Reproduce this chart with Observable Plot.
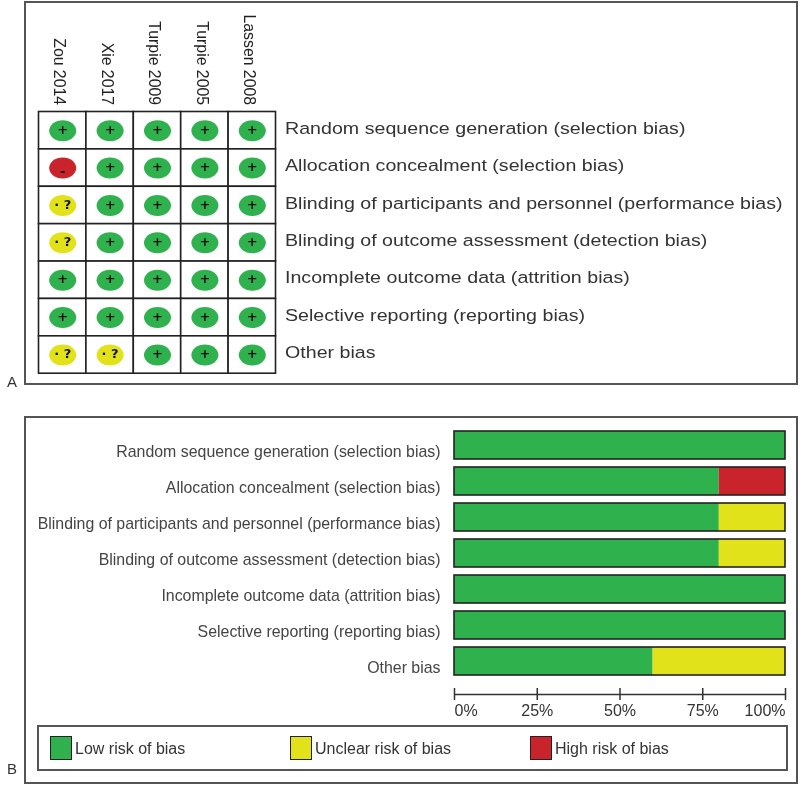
<!DOCTYPE html>
<html>
<head>
<meta charset="utf-8">
<script src="https://cdn.jsdelivr.net/npm/d3@7"></script>
<script src="https://cdn.jsdelivr.net/npm/@observablehq/plot@0.6"></script>
<style>
  html, body { margin: 0; padding: 0; background: #fff; }
  #page { position: relative; width: 800px; height: 786px; overflow: hidden; font-family: "Liberation Sans", sans-serif; filter: blur(0.4px); }
  #panelA, #panelB { position: absolute; left: 0; width: 800px; }
  #panelA { top: 0; }
  #panelB { top: 400px; }
  #panelA svg, #panelB svg { display: block; background: transparent; }
  .frame { position: absolute; border: 2px solid #555; box-sizing: border-box; }
  .tag { position: absolute; left: 7px; font-size: 15px; color: #333; }
  #legend { position: absolute; left: 37px; top: 725px; width: 751px; height: 46px; border: 2px solid #555; box-sizing: border-box; background: #fff; }
  .sw { position: absolute; top: 9px; width: 22px; height: 24px; border: 1.5px solid #222; box-sizing: border-box; }
  .lb { position: absolute; top: 13px; font: 16px "Liberation Sans Narrow", "Liberation Sans", sans-serif; color: #333; white-space: nowrap; }
</style>
</head>
<body>
<div id="page">
  <div class="frame" style="left:24px;top:1px;width:774px;height:384px"></div>
  <div class="frame" style="left:24px;top:416px;width:774px;height:368px"></div>
  <div class="tag" style="top:373px">A</div>
  <div class="tag" style="top:760px">B</div>
  <div id="panelA"></div>
  <div id="panelB"></div>
  <div id="legend"></div>
</div>
<script>
const studies = ["Zou 2014", "Xie 2017", "Turpie 2009", "Turpie 2005", "Lassen 2008"];
const domains = [
  "Random sequence generation (selection bias)",
  "Allocation concealment (selection bias)",
  "Blinding of participants and personnel (performance bias)",
  "Blinding of outcome assessment (detection bias)",
  "Incomplete outcome data (attrition bias)",
  "Selective reporting (reporting bias)",
  "Other bias"
];
const riskLevels = ["Low risk of bias", "Unclear risk of bias", "High risk of bias"];
const riskColors = ["#2fb14e", "#e2e21a", "#c9232b"];
const riskSigns = ["+", "· ?", "-"];

// one row per domain, one column per study: 0 low, 1 unclear, 2 high
const judgements = [
  [0, 0, 0, 0, 0],
  [2, 0, 0, 0, 0],
  [1, 0, 0, 0, 0],
  [1, 0, 0, 0, 0],
  [0, 0, 0, 0, 0],
  [0, 0, 0, 0, 0],
  [1, 1, 0, 0, 0]
];

// percentage of studies per domain
const lowShare =     [100, 80, 80, 80, 100, 100, 60];
const unclearShare = [0, 0, 20, 20, 0, 0, 40];
const highShare =    [0, 20, 0, 0, 0, 0, 0];
const axisTicks = [0, 25, 50, 75, 100];

const cells = domains.flatMap((domain, i) =>
  studies.map((study, j) => ({domain, study, risk: riskLevels[judgements[i][j]], sign: riskSigns[judgements[i][j]]})));
const shares = domains.flatMap((domain, i) => [
  {domain, risk: riskLevels[0], share: lowShare[i]},
  {domain, risk: riskLevels[1], share: unclearShare[i]},
  {domain, risk: riskLevels[2], share: highShare[i]}
]);

const colorScale = {domain: riskLevels, range: riskColors};
const wideFont = "'DejaVu Sans', sans-serif";
const narrowFont = "'Liberation Sans Narrow', 'Liberation Sans', sans-serif";

// A wide, flat ellipse symbol for the judgement markers
const ellipse = {
  draw(ctx, size) {
    const r = Math.sqrt(size / Math.PI), a = r * 1.29, b = r, k = 0.5523;
    ctx.moveTo(a, 0);
    ctx.bezierCurveTo(a, k * b, k * a, b, 0, b);
    ctx.bezierCurveTo(-k * a, b, -a, k * b, -a, 0);
    ctx.bezierCurveTo(-a, -k * b, -k * a, -b, 0, -b);
    ctx.bezierCurveTo(k * a, -b, a, -k * b, a, 0);
    ctx.closePath();
  }
};

const signFor = (risk) => cells.filter((d) => d.risk === risk);

const plotA = Plot.plot({
  width: 800,
  height: 400,
  marginLeft: 38.5,
  marginRight: 524.5,
  marginTop: 111.5,
  marginBottom: 26.8,
  style: {background: "transparent", overflow: "visible"},
  x: {domain: studies, padding: 0, round: false, axis: null},
  y: {domain: domains, padding: 0, round: false, axis: null},
  color: colorScale,
  marks: [
    Plot.cell(cells, {x: "study", y: "domain", fill: "white", stroke: "#222", strokeWidth: 1.6}),
    Plot.dot(cells, {x: "study", y: "domain", r: 10.5, symbol: ellipse, fill: "risk", stroke: "none"}),
    Plot.text(signFor(riskLevels[0]), {x: "study", y: "domain", text: "sign", dy: -1, fontFamily: wideFont, fontWeight: "bold", fontSize: 13, fill: "#111"}),
    Plot.text(signFor(riskLevels[1]), {x: "study", y: "domain", text: "sign", dy: -1, fontFamily: wideFont, fontWeight: "bold", fontSize: 13, fill: "#111"}),
    Plot.text(signFor(riskLevels[2]), {x: "study", y: "domain", text: "sign", dy: 4, fontFamily: wideFont, fontWeight: "bold", fontSize: 13, fill: "#111"}),
    Plot.text(studies, {x: d => d, frameAnchor: "top", text: d => d, rotate: 90, textAnchor: "end", dx: 3, dy: -7, fontFamily: narrowFont, fontSize: 15.8, fill: "#222"}),
    Plot.axisY({anchor: "right", tickSize: 0, tickPadding: 9, dy: -2, label: null, fontFamily: "'Liberation Sans', sans-serif", fontSize: 15.9, fill: "#333"})
  ]
});
// The right-hand labels of panel A are the same face as panel B, stretched sideways
d3.select(plotA).selectAll('[aria-label="y-axis tick label"] text').each(function () {
  this.setAttribute("transform", (this.getAttribute("transform") || "") + " scale(1.235,1)");
});
document.getElementById("panelA").append(plotA);

const plotB = Plot.plot({
  width: 800,
  height: 386,
  marginLeft: 454,
  marginRight: 15,
  marginTop: 27,
  marginBottom: 107,
  style: {background: "transparent", overflow: "visible"},
  x: {domain: [0, 100], axis: null},
  y: {domain: domains, paddingInner: 8 / 36, paddingOuter: 4 / 36, axis: null},
  color: colorScale,
  marks: [
    Plot.barX(shares, {x: "share", y: "domain", fill: "risk", order: riskLevels}),
    Plot.barX(domains, {x1: () => 0, x2: () => 100, y: d => d, fill: "none", stroke: "#222", strokeWidth: 1.6}),
    Plot.ruleY(["Other bias"], {y: d => d, x1: 0, x2: 100, dy: 33, stroke: "#333", strokeWidth: 1.5}),
    Plot.tickX(axisTicks, {x: d => d, y: () => "Other bias", dy: 33, insetTop: 8, insetBottom: 8, stroke: "#333", strokeWidth: 1.5}),
    Plot.text(axisTicks.slice(0, 1), {x: d => d, y: () => "Other bias", dy: 49, text: d => d + "%", textAnchor: "start", fontFamily: narrowFont, fontSize: 16, fill: "#333"}),
    Plot.text(axisTicks.slice(1, 4), {x: d => d, y: () => "Other bias", dy: 49, text: d => d + "%", fontFamily: narrowFont, fontSize: 16, fill: "#333"}),
    Plot.text(axisTicks.slice(4), {x: d => d, y: () => "Other bias", dy: 49, text: d => d + "%", textAnchor: "end", fontFamily: narrowFont, fontSize: 16, fill: "#333"}),
    Plot.axisY({anchor: "left", tickSize: 0, tickPadding: 14, dy: 6, label: null, fontFamily: narrowFont, fontSize: 15.9, fill: "#444"})
  ]
});
document.getElementById("panelB").append(plotB);

const legendLefts = [11, 251, 491];
const legend = document.getElementById("legend");
riskLevels.forEach((label, i) => {
  const sw = document.createElement("div");
  sw.className = "sw";
  sw.style.left = legendLefts[i] + "px";
  sw.style.background = riskColors[i];
  const lb = document.createElement("div");
  lb.className = "lb";
  lb.style.left = legendLefts[i] + 25 + "px";
  lb.textContent = label;
  legend.append(sw, lb);
});
</script>
</body>
</html>
